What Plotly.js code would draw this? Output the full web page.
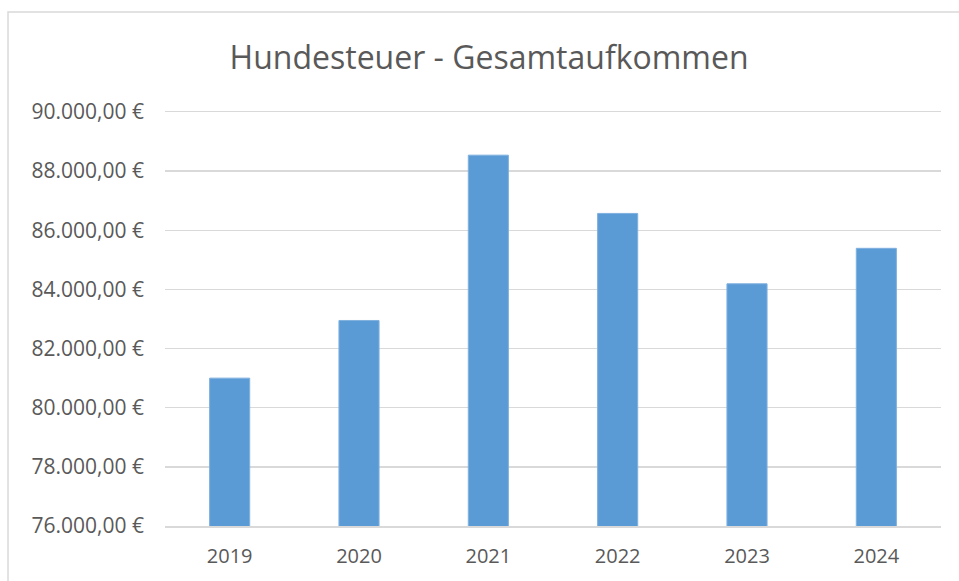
<!DOCTYPE html>
<html>
<head>
<meta charset="utf-8">
<script src="https://cdn.plot.ly/plotly-3.0.1.min.js"></script>
<style>html,body{margin:0;padding:0;background:#fff;}#chart{width:959px;height:581px;}</style>
</head>
<body>
<div id="chart"></div>
<script>
const years = ['2019', '2020', '2021', '2022', '2023', '2024'];
const revenue = [81000, 82950, 88540, 86570, 84190, 85390];
const yTickVals = [76000, 78000, 80000, 82000, 84000, 86000, 88000, 90000];
const yTickText = ['76.000,00 €', '78.000,00 €', '80.000,00 €', '82.000,00 €', '84.000,00 €', '86.000,00 €', '88.000,00 €', '90.000,00 €'];
const chartTitle = 'Hundesteuer - Gesamtaufkommen';

const font = '"Open Sans", "Noto Sans", sans-serif';
Plotly.newPlot('chart', [{
  type: 'bar',
  x: years,
  y: revenue,
  marker: {color: '#5b9bd5', line: {color: '#7fb0df', width: 1}},
  hoverinfo: 'x+y'
}], {
  width: 959, height: 581,
  margin: {l: 165, r: 18, t: 112, b: 55},
  paper_bgcolor: '#ffffff', plot_bgcolor: '#ffffff',
  showlegend: false,
  bargap: 0.69,
  title: {text: chartTitle, x: 0.51, xanchor: 'center', y: 0.9, yanchor: 'middle', yref: 'container',
          font: {family: font, size: 32, color: '#595959'}},
  xaxis: {type: 'category', showgrid: false, showline: true, mirror: true, linecolor: '#d9d9d9', linewidth: 1.5,
          tickfont: {family: font, size: 20, color: '#595959'}, ticks: '', ticklabelstandoff: 11, fixedrange: true},
  yaxis: {range: [76000, 90000], tickvals: yTickVals, ticktext: yTickText, showgrid: true, gridcolor: '#d9d9d9', gridwidth: 1.5,
          zeroline: false, showline: false, ticks: '', ticklabelstandoff: 20,
          tickfont: {family: font, size: 21, color: '#595959'}, fixedrange: true},
  shapes: [{type: 'rect', xref: 'paper', yref: 'paper', x0: -0.2023, x1: 1.03, y0: -0.2, y1: 1.2415,
            line: {color: '#d9d9d9', width: 1.5}, fillcolor: 'rgba(0,0,0,0)', layer: 'below'}]
}, {displayModeBar: false, staticPlot: true});
</script>
</body>
</html>
